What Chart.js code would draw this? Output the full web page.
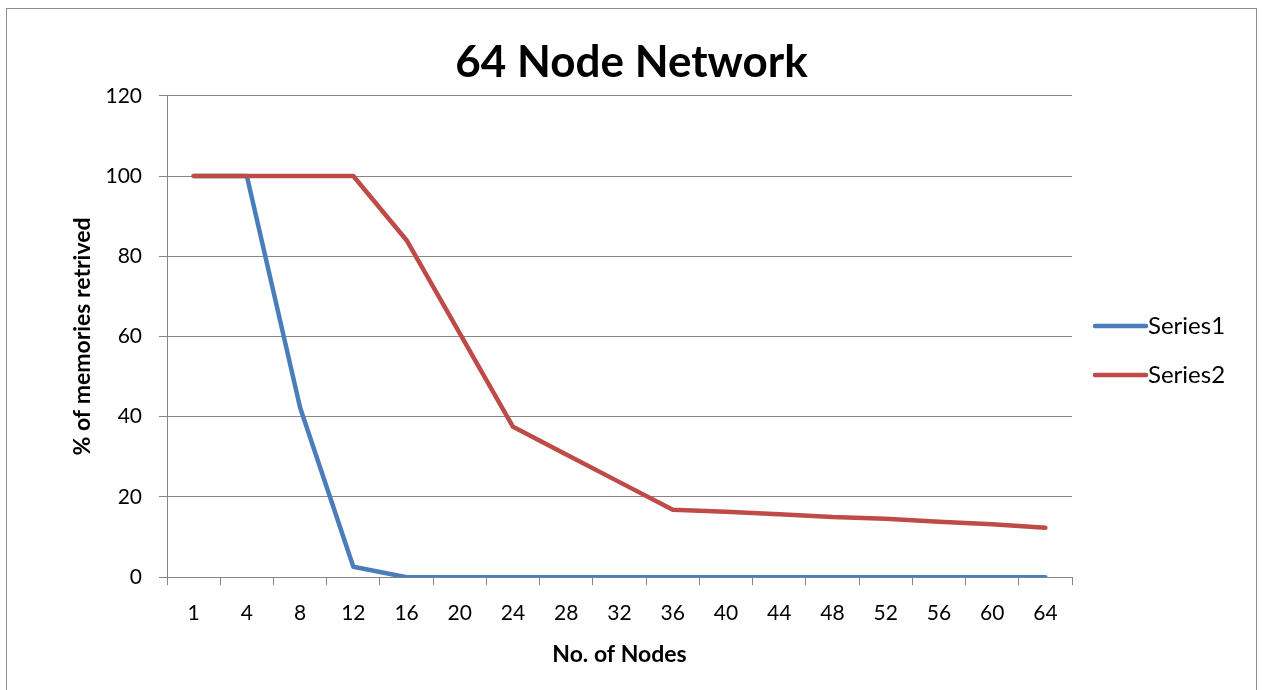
<!DOCTYPE html>
<html>
<head>
<meta charset="utf-8">
<script src="https://cdn.jsdelivr.net/npm/chart.js@4/dist/chart.umd.min.js"></script>
<style>
  html, body { margin: 0; padding: 0; background: #fff; }
  #frame { position: absolute; left: 6px; top: 8px; width: 1251px; height: 700px; border: 1.5px solid #8c8c8c; box-sizing: border-box; }
  #wrap { position: absolute; left: 0; top: 0; width: 1263px; height: 690px; }
</style>
</head>
<body>
<div id="frame"></div>
<div id="wrap"><canvas id="c" width="1263" height="690"></canvas></div>
<script>
const categories = ["1","4","8","12","16","20","24","28","32","36","40","44","48","52","56","60","64"];
const series1 = [100, 100, 42.3, 2.6, 0, 0, 0, 0, 0, 0, 0, 0, 0, 0, 0, 0, 0];
const series2 = [100, 100, 100, 100, 84, 60.8, 37.5, 30.6, 23.7, 16.8, 16.3, 15.7, 15.0, 14.6, 13.8, 13.2, 12.3];
const seriesNames = ["Series1", "Series2"];
const seriesColors = ["#4A7EBB", "#BE4B48"];
const yTicks = [0, 20, 40, 60, 80, 100, 120];
const titleText = "64 Node Network";
const xTitle = "No. of Nodes";
const yTitle = "% of memories retrived";

const FONT = "Lato, 'Open Sans', sans-serif";
const GRID = "#868686";

const legendPlugin = {
  id: 'customLegend',
  afterDraw(chart) {
    const ctx = chart.ctx;
    const a = chart.chartArea;
    const cy = (a.top + a.bottom) / 2 + 14;
    const gap = 49;
    ctx.save();
    chart.data.datasets.forEach((ds, i) => {
      const y = cy + (i - 0.5) * gap;
      ctx.strokeStyle = ds.borderColor;
      ctx.lineWidth = 4.5;
      ctx.lineCap = 'round';
      ctx.beginPath();
      ctx.moveTo(a.right + 23, y);
      ctx.lineTo(a.right + 74, y);
      ctx.stroke();
      ctx.fillStyle = '#000';
      ctx.font = "24px " + FONT;
      ctx.textBaseline = 'middle';
      ctx.textAlign = 'left';
      ctx.fillText(ds.label, a.right + 76, y);
    });
    ctx.restore();
  }
};

new Chart(document.getElementById('c'), {
  type: 'line',
  data: {
    labels: categories,
    datasets: [
      { label: seriesNames[0], data: series1, order: 2, borderColor: seriesColors[0], backgroundColor: seriesColors[0], borderWidth: 4.5, pointRadius: 0, tension: 0, borderCapStyle: 'round', borderJoinStyle: 'round' },
      { label: seriesNames[1], data: series2, order: 1, borderColor: seriesColors[1], backgroundColor: seriesColors[1], borderWidth: 4.5, pointRadius: 0, tension: 0, borderCapStyle: 'round', borderJoinStyle: 'round' }
    ]
  },
  options: {
    responsive: false,
    animation: false,
    devicePixelRatio: 1,
    layout: { padding: { left: 0, right: 0, top: 36, bottom: 22 } },
    plugins: {
      legend: { display: false },
      tooltip: { enabled: false },
      title: {
        display: true, text: titleText, color: '#000',
        font: { family: FONT, size: 44, weight: 'bold' },
        padding: { top: 0, bottom: 7 }
      }
    },
    scales: {
      x: {
        type: 'category',
        offset: true,
        grid: { offset: true, drawOnChartArea: false, drawTicks: true, tickLength: 8, color: GRID, lineWidth: 1 },
        border: { display: true, color: GRID, width: 1 },
        ticks: { color: '#000', font: { family: FONT, size: 21 }, padding: 15, maxRotation: 0, autoSkip: false },
        title: { display: true, text: xTitle, color: '#000', font: { family: FONT, size: 23, weight: 'bold' }, padding: { top: 0, bottom: 0 } }
      },
      y: {
        min: 0, max: 120,
        afterBuildTicks(axis) { axis.ticks = yTicks.map(v => ({ value: v })); },
        afterFit(axis) { axis.width = 167; },
        grid: { drawTicks: true, tickLength: 8, color: GRID, lineWidth: 1 },
        border: { display: true, color: GRID, width: 1 },
        ticks: { color: '#000', font: { family: FONT, size: 21 }, padding: 17 },
        title: { display: true, text: yTitle, color: '#000', font: { family: FONT, size: 23, weight: 'bold' }, padding: { top: 69, bottom: 0 } }
      },
      yRight: {
        position: 'right',
        display: true,
        afterFit(axis) { axis.width = 191; },
        grid: { display: false, drawOnChartArea: false, drawTicks: false },
        border: { display: false },
        ticks: { display: false }
      }
    }
  },
  plugins: [legendPlugin]
});
</script>
</body>
</html>
